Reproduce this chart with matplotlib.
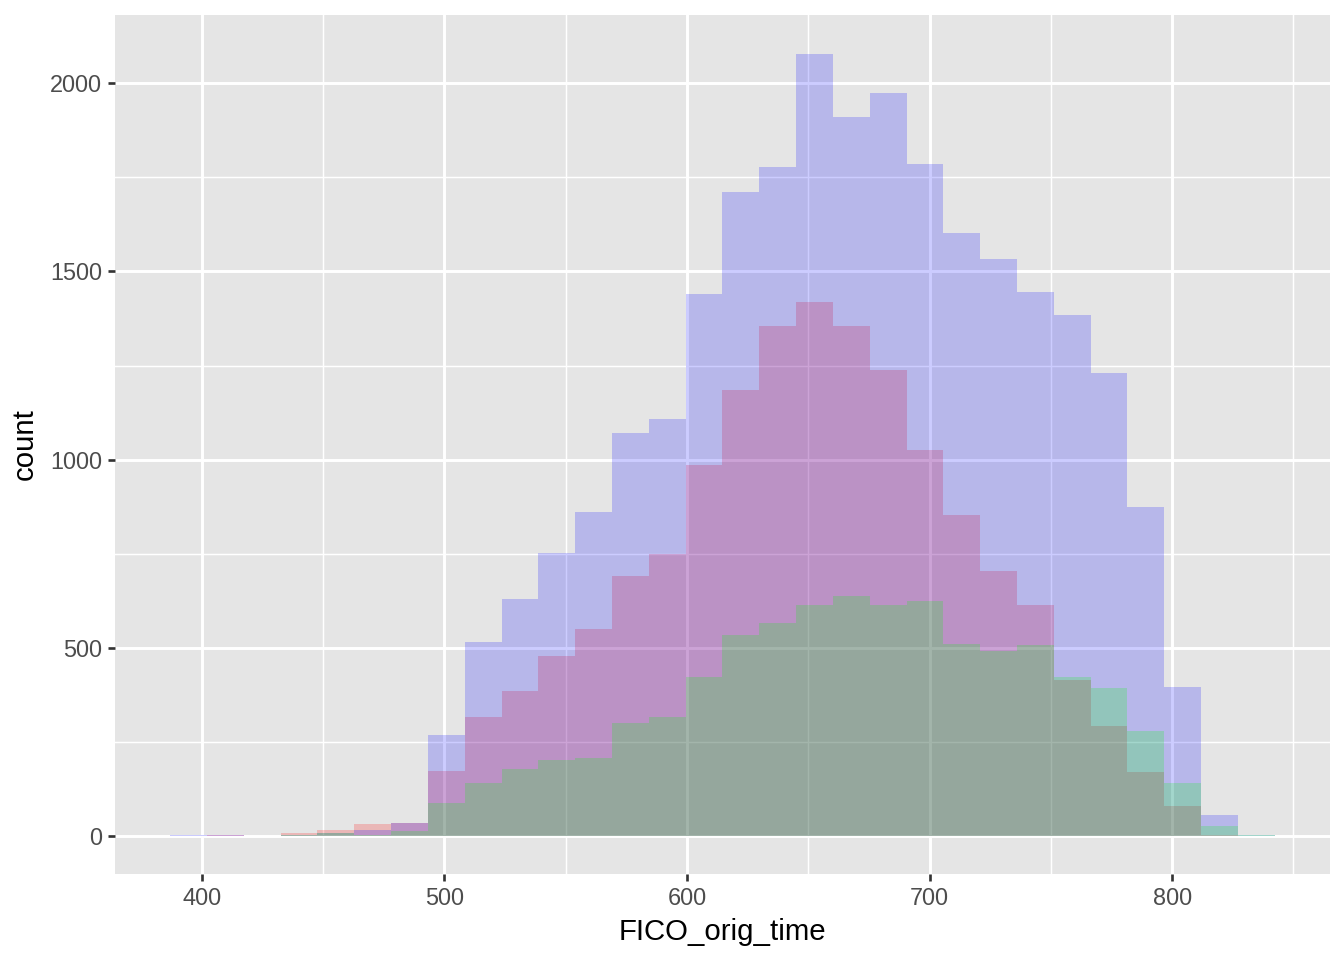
import numpy as np
import matplotlib.pyplot as plt
from matplotlib.ticker import MultipleLocator

# --- histogram layout: 30 bins, like ggplot's default stat_bin ---
fico_min, fico_max, n_bins = 394.6, 834.7, 30

# counts per bin (left to right)
count_red = [0, 3, 2, 8, 16, 34, 37, 173, 316, 385, 480, 552, 692, 751, 987,
             1186, 1355, 1419, 1355, 1239, 1027, 854, 704, 615, 416, 292, 172, 80, 5, 0]
count_blue = [3, 3, 2, 4, 10, 16, 35, 270, 517, 631, 753, 862, 1072, 1109, 1440,
              1711, 1777, 2077, 1910, 1973, 1785, 1602, 1533, 1446, 1385, 1231, 875, 398, 58, 3]
count_green = [0, 0, 2, 4, 10, 5, 14, 89, 143, 178, 202, 207, 302, 318, 424,
               536, 567, 615, 639, 614, 626, 512, 492, 507, 422, 395, 281, 143, 27, 4]

binwidth = (fico_max - fico_min) / (n_bins - 1)
edges = fico_min - binwidth / 2 + binwidth * np.arange(n_bins + 1)

plt.rcParams['font.family'] = ['Liberation Sans', 'DejaVu Sans']

fig = plt.figure(figsize=(7, 5), dpi=192)
ax = fig.add_axes([115 / 1344, 1 - 874 / 960, (1330 - 115) / 1344, (874 - 15) / 960])
ax.set_facecolor('#E5E5E5')

# same draw order as the original layers
for counts, col in [(count_red, '#FF0000'), (count_blue, '#0000FF'), (count_green, '#00FF00')]:
    ax.stairs(counts, edges, fill=True, color=col, alpha=0.2, linewidth=0, zorder=3)

# ggplot-like 5% expansion
xr = edges[-1] - edges[0]
ax.set_xlim(edges[0] - 0.05 * xr, edges[-1] + 0.05 * xr)
ymax = max(count_blue)
ax.set_ylim(-0.048 * ymax, 1.05 * ymax)

ax.xaxis.set_major_locator(MultipleLocator(100))
ax.xaxis.set_minor_locator(MultipleLocator(50))
ax.yaxis.set_major_locator(MultipleLocator(500))
ax.yaxis.set_minor_locator(MultipleLocator(250))
ax.grid(which='major', color='white', linewidth=1.1, zorder=1)
ax.grid(which='minor', color='white', linewidth=0.55, zorder=1)
ax.set_axisbelow(True)

for s in ax.spines.values():
    s.set_visible(False)
ax.tick_params(which='major', length=2.75, width=1.0, color='#333333',
               labelsize=8.8, labelcolor='#4D4D4D', pad=2.2)
ax.tick_params(which='minor', length=0)

ax.set_xlabel('FICO_orig_time', fontsize=11, color='black', labelpad=3)
ax.set_ylabel('count', fontsize=11, color='black', labelpad=4)

fig.savefig('out.png', dpi=192, facecolor='white')
